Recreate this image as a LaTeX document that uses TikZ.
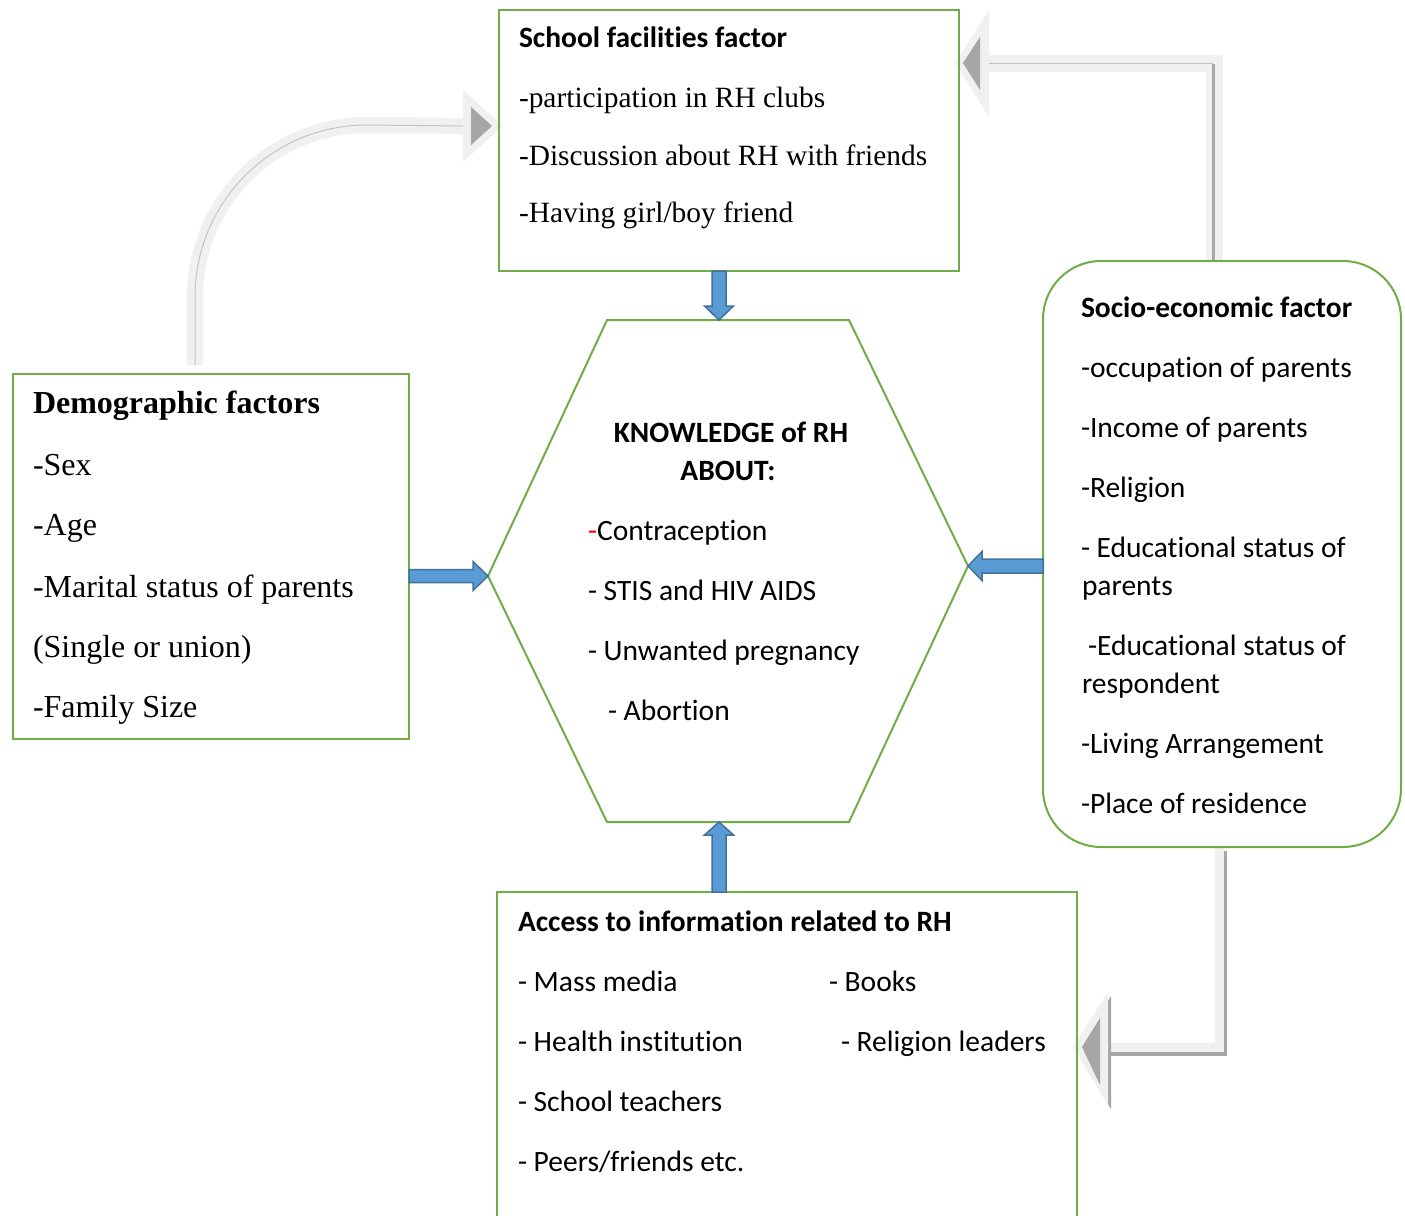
\documentclass[tikz,border=0pt]{standalone}
\usepackage{fontspec}
\setmainfont{Liberation Serif}
\newfontfamily\calibri[Ligatures={NoCommon,NoRare}]{Carlito}
\usetikzlibrary{fit,calc}
\definecolor{grn}{HTML}{70AD47}
\definecolor{bfill}{HTML}{5B9BD5}
\definecolor{bline}{HTML}{41719C}
\definecolor{glight}{HTML}{F0F0F0}
\definecolor{gdark}{HTML}{A6A6A6}
\definecolor{gmid}{HTML}{C4C4C4}
\begin{document}
\begin{tikzpicture}[x=0.5pt,y=-0.5pt,
  gbox/.style={draw=grn, line width=1pt, inner sep=0pt, outer sep=0pt},
  txt/.style={anchor=base west, inner sep=0pt, outer sep=0pt},
  ctxt/.style={anchor=base, inner sep=0pt, outer sep=0pt},
  tr/.style={font=\fontsize{14.7}{17}\selectfont},
  trl/.style={font=\fontsize{16}{19}\selectfont},
  trb/.style={font=\fontsize{16}{19}\selectfont\bfseries},
  cal/.style={font=\calibri\fontsize{14.75}{17}\selectfont},
  calb/.style={font=\calibri\fontsize{14.75}{17}\selectfont\bfseries},
  barrow/.style={draw=bline, fill=bfill, line width=0.75pt, line join=miter},
  gband/.style={draw=glight, line join=miter},
]
\useasboundingbox (0,0) rectangle (1405,1216);
\clip (0,0) rectangle (1405,1216);

% ---------- gray arrows (under boxes) ----------
\coordinate (g1s) at (195,365);
\coordinate (g1t) at (503,126);
\draw[gband, line width=8pt] (g1s) -- (195,297) arc[start angle=180,end angle=90,radius=86pt] -- (466,126);
\draw[gmid, line width=0.5pt] (195,365) -- (195,297) arc[start angle=180,end angle=90,radius=86pt] -- (466,126);
\fill[glight] (g1t) -- (463,90) -- (463,162) -- cycle;
\fill[gdark] (492,126) -- (471,107) -- (471,145) -- cycle;

\coordinate (g2s) at (1214,262);
\coordinate (g2t) at (955,63);
\draw[gband, line width=8.5pt] (g2s) -- (1214,63) -- (987,63);
\draw[gdark, line width=1.5pt] (1213,262) -- (1213,64);
\draw[gmid, line width=0.5pt] (1213,63) -- (985,63);
\fill[glight] (g2t) -- (989,10) -- (989,117) -- cycle;
\fill[gdark] (963,63) -- (980,37) -- (980,90) -- cycle;

\coordinate (g3s) at (1219,848);
\coordinate (g3t) at (1073,1047);
\draw[draw=gdark, line width=4.5pt, line join=miter] (1222,851) -- (1222,1051) -- (1108,1051);
\draw[gband, line width=4.5pt] (g3s) -- (1219,1047) -- (1106,1047);
\fill[gdark] (1076,1051) -- (1111,996) -- (1111,1109) -- cycle;
\fill[glight] (g3t) -- (1108,992) -- (1108,1105) -- cycle;
\fill[gdark] (1082,1047) -- (1100,1018) -- (1100,1085) -- cycle;

% ---------- boxes ----------
\node[gbox, fit={(499,10) (959,271)}] (school) {};
\node[gbox, fit={(13,374) (409,739)}] (demo) {};
\node[gbox, rounded corners=29pt, fit={(1043,261) (1401,847)}] (socio) {};
\node[gbox, fit={(497,892) (1077,1225)}] (access) {};

% hexagon
\coordinate (hTL) at (607,320);
\coordinate (hTR) at (849,320);
\coordinate (hR) at (968,566);
\coordinate (hBR) at (849,822);
\coordinate (hBL) at (607,822);
\coordinate (hL) at (488,576);
\coordinate (hTop) at (719,320);
\coordinate (hBot) at (719,822);
\draw[grn, line width=1pt, line join=miter] (hTL) -- (hTR) -- (hR) -- (hBR) -- (hBL) -- (hL) -- cycle;

% ---------- blue arrows ----------
\draw[barrow] let \p1=(hL), \p2=(demo.east) in
  (\x1,\y1) -- (\x1-7.5pt,\y1+7.25pt) -- (\x1-7.5pt,\y1+3.25pt) -- (\x2,\y1+3.25pt)
  -- (\x2,\y1-3.25pt) -- (\x1-7.5pt,\y1-3.25pt) -- (\x1-7.5pt,\y1-7.25pt) -- cycle;
\draw[barrow] let \p1=(hR), \p2=(socio.west) in
  (\x1,\y1) -- (\x1+7pt,\y1+7.25pt) -- (\x1+7pt,\y1+3.5pt) -- (\x2,\y1+3.5pt)
  -- (\x2,\y1-3.5pt) -- (\x1+7pt,\y1-3.5pt) -- (\x1+7pt,\y1-7.25pt) -- cycle;
\draw[barrow] let \p1=(hTop), \p2=(school.south) in
  (\x1,\y1) -- (\x1-7.25pt,\y1+7pt) -- (\x1-3.5pt,\y1+7pt) -- (\x1-3.5pt,\y2)
  -- (\x1+3.5pt,\y2) -- (\x1+3.5pt,\y1+7pt) -- (\x1+7.25pt,\y1+7pt) -- cycle;
\draw[barrow] let \p1=(hBot), \p2=(access.north) in
  (\x1,\y1) -- (\x1-7.25pt,\y1-6.5pt) -- (\x1-3.5pt,\y1-6.5pt) -- (\x1-3.5pt,\y2)
  -- (\x1+3.5pt,\y2) -- (\x1+3.5pt,\y1-6.5pt) -- (\x1+7.25pt,\y1-6.5pt) -- cycle;

% ---------- texts: school facilities ----------
\node[txt, calb] (s0) at (519,47) {School facilities factor};
\node[txt, tr] (s1) at (519,107) {-participation in RH clubs};
\node[txt, tr] (s2) at (519,165) {-Discussion about RH with friends};
\node[txt, tr] (s3) at (519,222) {-Having girl/boy friend};

% ---------- demographic ----------
\node[txt, trb] (d0) at (33,413) {Demographic factors};
\node[txt, trl] (d1) at (33,475) {-Sex};
\node[txt, trl] (d2) at (33,535) {-Age};
\node[txt, trl] (d3) at (33,597) {-Marital status of parents};
\node[txt, trl] (d4) at (33,657) {(Single or union)};
\node[txt, trl] (d5) at (33,717) {-Family Size};

% ---------- socio-economic ----------
\node[txt, calb] (e0) at (1081,317) {Socio-economic factor};
\node[txt, cal] (e1) at (1081,377) {-occupation of parents};
\node[txt, cal] (e2) at (1081,437) {-Income of parents};
\node[txt, cal] (e3) at (1081,497) {-Religion};
\node[txt, cal] (e4) at (1081,557) {- Educational status of};
\node[txt, cal] (e5) at (1082,595) {parents};
\node[txt, cal] (e6) at (1088,655) {-Educational status of};
\node[txt, cal] (e7) at (1082,693) {respondent};
\node[txt, cal] (e8) at (1081,753) {-Living Arrangement};
\node[txt, cal] (e9) at (1081,813) {-Place of residence};

% ---------- knowledge ----------
\node[ctxt, calb] (k0) at (731,442) {KNOWLEDGE of RH};
\node[ctxt, calb] (k1) at (728,480) {ABOUT:};
\node[txt, cal] (k2) at (588,540) {{\color{red}-}Contraception};
\node[txt, cal] (k3) at (588,600) {- STIS and HIV AIDS};
\node[txt, cal] (k4) at (588,660) {- Unwanted pregnancy};
\node[txt, cal] (k5) at (608,720) {- Abortion};

% ---------- access ----------
\node[txt, calb] (a0) at (518,931) {Access to information related to RH};
\node[txt, cal] (a1) at (518,991) {- Mass media};
\node[txt, cal] (a2) at (829,991) {- Books};
\node[txt, cal] (a3) at (518,1051) {- Health institution};
\node[txt, cal] (a4) at (841,1051) {- Religion leaders};
\node[txt, cal] (a5) at (518,1111) {- School teachers};
\node[txt, cal] (a6) at (518,1171) {- Peers/friends etc.};
\end{tikzpicture}
\end{document}
